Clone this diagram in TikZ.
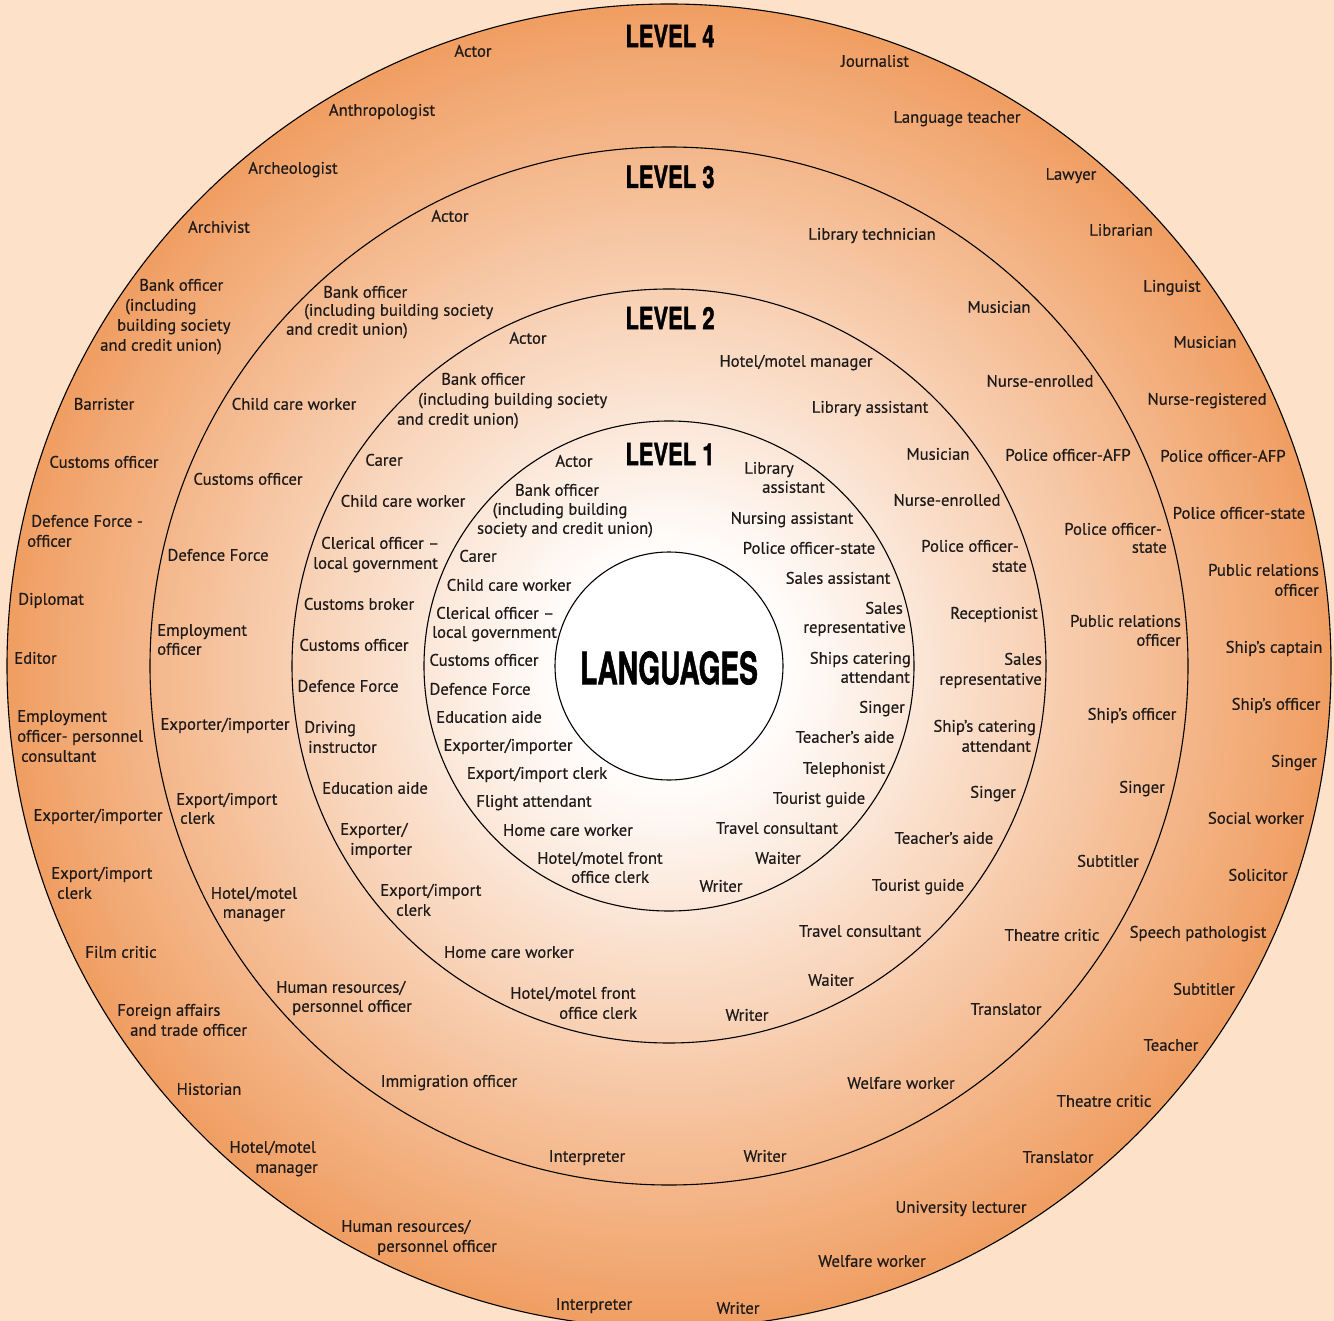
\documentclass[tikz,border=0pt]{standalone}
\usepackage{fontspec}
\setmainfont{PT Sans}
\newfontfamily\labfont{PT Sans}[FakeBold=0.45]
\newfontfamily\ttlfont{TeX Gyre Heros}[FakeBold=1.6]
\definecolor{bgpeach}{RGB}{253,225,201}
\definecolor{edgeor}{RGB}{240,158,98}
\definecolor{ink}{RGB}{30,26,26}
\pgfdeclareradialshading{langshade}{\pgfpoint{0bp}{0bp}}{color(0bp)=(white); color(4bp)=(white); color(25bp)=(edgeor); color(50bp)=(edgeor)}
\newcommand\jc[4]{\node[lbl] (#1) at (#2,#3) {#4};}
\newcommand\jw[4]{\node[lbl,anchor=west] (#1) at (#2,#3) {#4};}
\newcommand\je[4]{\node[lbl,anchor=east] (#1) at (#2,#3) {#4};}
\begin{document}
\begin{tikzpicture}[x=1pt,y=-1pt,
  lbl/.style={font=\labfont\fontsize{16.7}{19}\selectfont, text=ink, inner sep=0pt, text height=11.5pt, text depth=0pt},
  ttl/.style={font=\ttlfont\bfseries\fontsize{30.5}{30}\selectfont, inner sep=0pt, text=black},
  bigttl/.style={font=\ttlfont\bfseries\fontsize{44.5}{44}\selectfont, inner sep=0pt, text=black},
  ring/.style={draw=black, line width=1.1pt}]
\useasboundingbox (0,0) rectangle (1334,1321);
\fill[bgpeach] (0,0) rectangle (1334,1321);
\shade[shading=langshade] (669,666) circle[radius=662pt];
\draw[ring] (669,666) circle[radius=662pt];
\draw[ring] (669,666) circle[radius=519pt];
\draw[ring] (669,666) circle[radius=377pt];
\draw[ring] (669,666) circle[radius=245pt];
\draw[ring, fill=white] (669,666) circle[radius=114pt];

% centre
\node[bigttl] (lang) at (669,668) {\scalebox{0.63}[1]{LANGUAGES}};

% Level 4
\node[ttl] (a1) at (670,36) {\scalebox{0.72}[1]{LEVEL 4}};
\jc{a2}{473}{51}{Actor}
\jc{a3}{875}{61}{Journalist}
\jc{a4}{382}{110}{Anthropologist}
\jc{a5}{957}{117}{Language teacher}
\jc{a6}{293}{168}{Archeologist}
\jc{a7}{1071}{174}{Lawyer}
\jc{a8}{219}{227}{Archivist}
\jc{a9}{1121}{230}{Librarian}
\jw{a10}{139}{285}{Bank officer}
\jw{a11}{125}{305}{(including}
\jw{a12}{117}{325}{building society}
\jw{a13}{100}{345}{and credit union)}
\jc{a14}{1172}{286}{Linguist}
\jc{a15}{1205}{342}{Musician}
\jc{a16}{104}{404}{Barrister}
\jc{a17}{1207}{399}{Nurse-registered}
\jc{a18}{104}{462}{Customs officer}
\jc{a19}{1223}{456}{Police officer-AFP}
\jw{a20}{31}{521}{Defence Force -}
\jw{a21}{27}{541}{officer}
\jc{a22}{1239}{513}{Police officer-state}
\je{a23}{1319}{570}{Public relations}
\je{a24}{1319}{590}{officer}
\jw{a25}{18}{599}{Diplomat}
\jc{a26}{1274}{647}{Ship’s captain}
\jw{a27}{14}{658}{Editor}
\jc{a28}{1276}{704}{Ship’s officer}
\jw{a29}{17}{716}{Employment}
\jw{a30}{17}{736}{officer- personnel}
\jw{a31}{21}{756}{consultant}
\jc{a32}{1294}{761}{Singer}
\jc{a33}{98}{815}{Exporter/importer}
\jc{a34}{1256}{818}{Social worker}
\jw{a35}{51}{873}{Export/import}
\jw{a36}{57}{893}{clerk}
\jc{a37}{1258}{875}{Solicitor}
\jc{a38}{121}{952}{Film critic}
\jc{a39}{1198}{932}{Speech pathologist}
\jw{a40}{117}{1010}{Foreign affairs}
\jw{a41}{130}{1030}{and trade officer}
\jc{a42}{1204}{989}{Subtitler}
\jc{a43}{209}{1089}{Historian}
\jc{a44}{1171}{1045}{Teacher}
\je{a45}{316}{1147}{Hotel/motel}
\je{a46}{318}{1167}{manager}
\jc{a47}{1104}{1101}{Theatre critic}
\jw{a48}{341}{1226}{Human resources/}
\jw{a49}{377}{1246}{personnel officer}
\jc{a50}{1058}{1157}{Translator}
\jc{a51}{961}{1207}{University lecturer}
\jc{a52}{872}{1261}{Welfare worker}
\jc{a53}{594}{1304}{Interpreter}
\jc{a54}{738}{1308}{Writer}

% Level 3
\node[ttl] (b1) at (670,177) {\scalebox{0.72}[1]{LEVEL 3}};
\jc{b2}{450}{216}{Actor}
\jc{b3}{872}{234}{Library technician}
\jw{b4}{323}{292}{Bank officer}
\jw{b5}{304}{310}{(including building society}
\jw{b6}{286}{329}{and credit union)}
\jc{b7}{999}{307}{Musician}
\jc{b8}{294}{404}{Child care worker}
\jc{b9}{1040}{381}{Nurse-enrolled}
\jc{b10}{1068}{455}{Police officer-AFP}
\jc{b11}{248}{479}{Customs officer}
\je{b12}{1162}{529}{Police officer-}
\je{b13}{1167}{547}{state}
\jc{b14}{218}{555}{Defence Force}
\je{b15}{1181}{621}{Public relations}
\je{b16}{1181}{640}{officer}
\jw{b17}{157}{630}{Employment}
\jw{b18}{157}{649}{officer}
\jc{b19}{1132}{714}{Ship’s officer}
\jc{b20}{225}{724}{Exporter/importer}
\jc{b21}{1142}{787}{Singer}
\jw{b22}{176}{799}{Export/import}
\jw{b23}{180}{818}{clerk}
\jc{b24}{1108}{861}{Subtitler}
\jc{b25}{254}{893}{Hotel/motel}
\jc{b26}{254}{912}{manager}
\jc{b27}{1052}{935}{Theatre critic}
\jw{b28}{276}{987}{Human resources/}
\jw{b29}{292}{1006}{personnel officer}
\jc{b30}{1006}{1009}{Translator}
\jc{b31}{449}{1081}{Immigration officer}
\jc{b32}{901}{1083}{Welfare worker}
\jc{b33}{587}{1156}{Interpreter}
\jc{b34}{765}{1156}{Writer}

% Level 2
\node[ttl] (c1) at (670,318) {\scalebox{0.72}[1]{LEVEL 2}};
\jc{c2}{528}{338}{Actor}
\jc{c3}{796}{361}{Hotel/motel manager}
\jw{c4}{441}{379}{Bank officer}
\jw{c5}{418}{399}{(including building society}
\jw{c6}{397}{419}{and credit union)}
\jc{c7}{870}{407}{Library assistant}
\jc{c8}{384}{460}{Carer}
\jc{c9}{938}{454}{Musician}
\jc{c10}{403}{501}{Child care worker}
\jc{c11}{947}{500}{Nurse-enrolled}
\jw{c12}{321}{543}{Clerical officer –}
\jw{c13}{313}{563}{local government}
\je{c14}{1019}{546}{Police officer-}
\je{c15}{1027}{566}{state}
\jc{c16}{359}{604}{Customs broker}
\jc{c17}{994}{613}{Receptionist}
\jc{c18}{354}{645}{Customs officer}
\je{c19}{1042}{659}{Sales}
\je{c20}{1042}{679}{representative}
\jc{c21}{348}{686}{Defence Force}
\je{c22}{1036}{726}{Ship’s catering}
\je{c23}{1031}{746}{attendant}
\jw{c24}{304}{727}{Driving}
\jw{c25}{308}{747}{instructor}
\jc{c26}{375}{788}{Education aide}
\jc{c27}{993}{792}{Singer}
\jw{c28}{340}{829}{Exporter/}
\jw{c29}{350}{849}{importer}
\jc{c30}{944}{838}{Teacher’s aide}
\jw{c31}{380}{890}{Export/import}
\jw{c32}{396}{910}{clerk}
\jc{c33}{918}{885}{Tourist guide}
\jc{c34}{509}{952}{Home care worker}
\jc{c35}{860}{931}{Travel consultant}
\jw{c36}{510}{993}{Hotel/motel front}
\jw{c37}{559}{1013}{office clerk}
\jc{c38}{831}{980}{Waiter}
\jc{c39}{747}{1015}{Writer}

% Level 1
\node[ttl] (d1) at (670,454) {\scalebox{0.72}[1]{LEVEL 1}};
\jc{d2}{574}{461}{Actor}
\jw{d3}{744}{468}{Library}
\jw{d4}{762}{487}{assistant}
\jc{d5}{557}{490}{Bank officer}
\jc{d6}{560}{509}{(including building}
\jc{d7}{565}{528}{society and credit union)}
\jc{d8}{792}{518}{Nursing assistant}
\jc{d9}{809}{548}{Police officer-state}
\jc{d10}{478}{556}{Carer}
\jc{d11}{838}{578}{Sales assistant}
\jc{d12}{509}{585}{Child care worker}
\je{d13}{903}{608}{Sales}
\je{d14}{906}{627}{representative}
\jw{d15}{436}{613}{Clerical officer –}
\jw{d16}{432}{632}{local government}
\je{d17}{911}{658}{Ships catering}
\je{d18}{910}{677}{attendant}
\jc{d19}{484}{660}{Customs officer}
\jc{d20}{480}{689}{Defence Force}
\jc{d21}{882}{707}{Singer}
\jc{d22}{489}{717}{Education aide}
\jc{d23}{845}{737}{Teacher’s aide}
\jc{d24}{508}{745}{Exporter/importer}
\jc{d25}{844}{768}{Telephonist}
\jc{d26}{537}{773}{Export/import clerk}
\jc{d27}{819}{798}{Tourist guide}
\jc{d28}{534}{801}{Flight attendant}
\jc{d29}{568}{830}{Home care worker}
\jc{d30}{777}{828}{Travel consultant}
\jw{d31}{537}{858}{Hotel/motel front}
\jw{d32}{571}{877}{office clerk}
\jc{d33}{778}{858}{Waiter}
\jc{d34}{721}{886}{Writer}
\end{tikzpicture}
\end{document}
